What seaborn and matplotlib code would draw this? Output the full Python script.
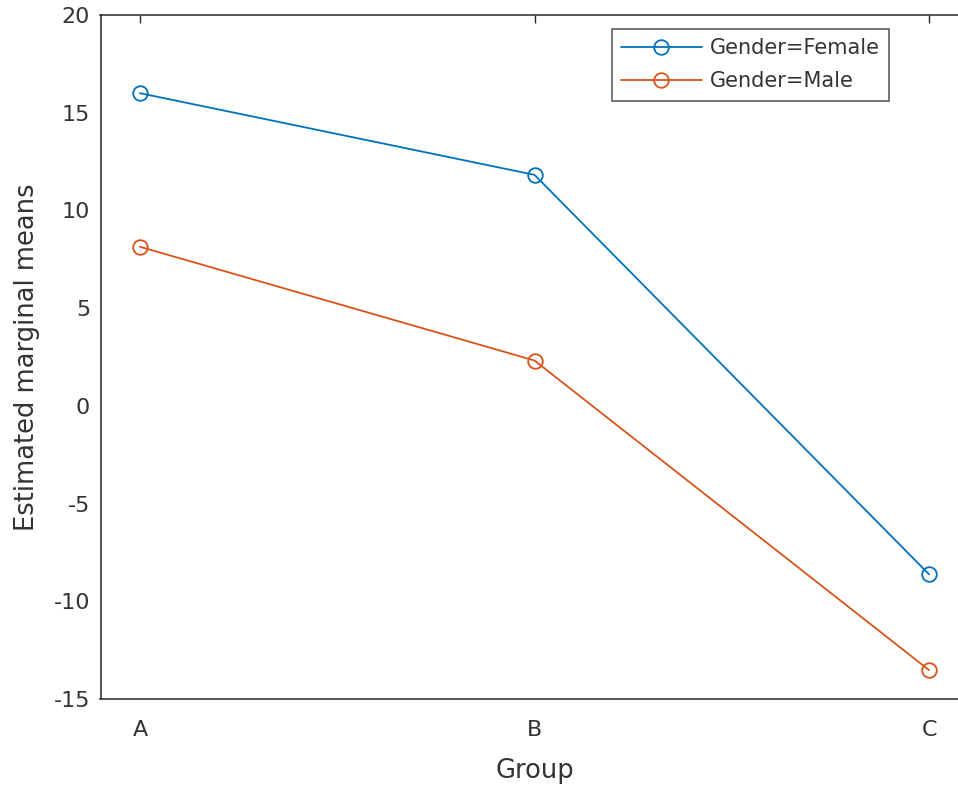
import matplotlib
matplotlib.use("Agg")
import matplotlib.pyplot as plt
import seaborn as sns
import pandas as pd

groups = ["A", "B", "C"]
female = [16.0, 11.82, -8.62]
male = [8.14, 2.32, -13.52]
series_names = ["Gender=Female", "Gender=Male"]
colors = ["#0072BD", "#D95319"]
yticks = [-15, -10, -5, 0, 5, 10, 15, 20]

df = pd.DataFrame({
    "Group": groups * 2,
    "Value": female + male,
    "Gender": [series_names[0]] * 3 + [series_names[1]] * 3,
})

sns.set_style("white")
plt.rcParams["font.family"] = ["DejaVu Sans"]

fig = plt.figure(figsize=(9.58, 7.89), dpi=100)
W, H = 958, 789
left, right, top, bottom = 100.5, 968.5, 15, 699
ax = fig.add_axes([left / W, 1 - bottom / H, (right - left) / W, (bottom - top) / H])

sns.pointplot(data=df, x="Group", y="Value", hue="Gender", order=groups,
              hue_order=series_names, palette=colors, markers="o",
              markerfacecolor="none", markersize=10.5, markeredgewidth=1.3,
              linewidth=1.3, errorbar=None, ax=ax)

ax.set_xlim(-0.1, 2.1)
ax.set_ylim(-15, 20)
ax.set_yticks(yticks)
ax.set_yticklabels([str(t) for t in yticks])
ax.set_xlabel("Group", fontsize=18.5, color="#333333", labelpad=13)
ax.set_ylabel("Estimated marginal means", fontsize=18.5, color="#333333", labelpad=10)
ax.tick_params(direction="in", length=6, width=1, colors="#262626",
               labelsize=16, top=True, right=True)
ax.tick_params(axis="x", pad=15, labelcolor="#333333")
ax.tick_params(axis="y", pad=7.5, labelcolor="#333333")
for s in ax.spines.values():
    s.set_visible(True)
    s.set_color("#262626")
    s.set_linewidth(1.1)

leg = ax.legend(loc="upper left", bbox_to_anchor=((612 - left) / (right - left), 1 - (29 - top) / (bottom - top)),
                frameon=True, fancybox=False, edgecolor="#262626", fontsize=15,
                handlelength=3.85, borderpad=0.45, labelspacing=0.62, handletextpad=0.4,
                borderaxespad=0)
leg.get_frame().set_linewidth(1.1)
for t in leg.get_texts():
    t.set_color("#333333")

fig.savefig("out.png", dpi=100)
